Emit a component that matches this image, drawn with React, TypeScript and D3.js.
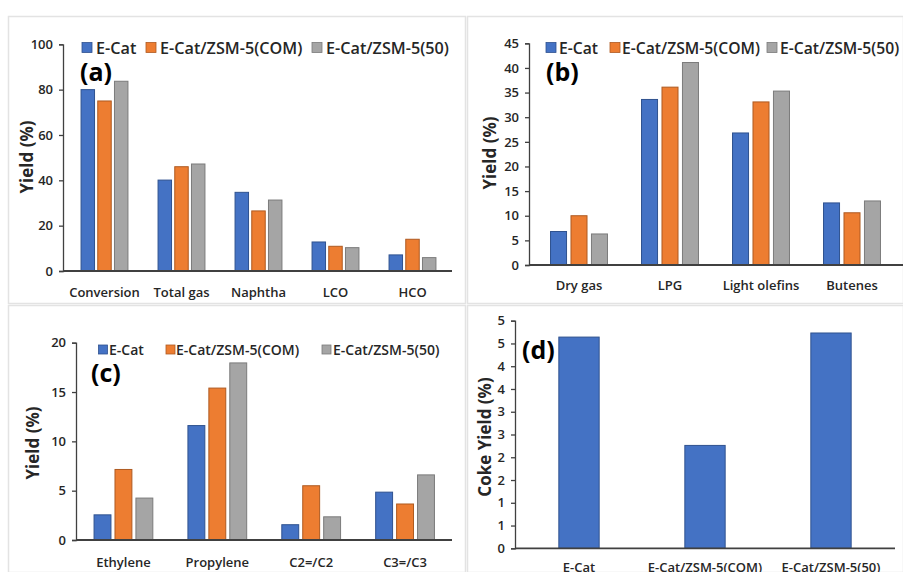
import * as d3 from 'd3';
import React, { useEffect, useRef } from 'react';

// series shared by panels (a)-(c); also the categories of panel (d)
const seriesNames = ['E-Cat', 'E-Cat/ZSM-5(COM)', 'E-Cat/ZSM-5(50)'];
const seriesColors = ['#4472C4', '#ED7D31', '#A5A5A5'];
const seriesStrokes = ['#2F528F', '#AE5A21', '#7B7B7B'];

// (a) product yields
const productCats = ['Conversion', 'Total gas', 'Naphtha', 'LCO', 'HCO'];
const productECat = [80, 40.1, 34.7, 12.8, 7.1];
const productCom = [75, 46, 26.5, 10.9, 14];
const product50 = [83.7, 47.2, 31.3, 10.3, 5.9];
const productTicks = [0, 20, 40, 60, 80, 100];

// (b) gas yields
const gasCats = ['Dry gas', 'LPG', 'Light olefins', 'Butenes'];
const gasECat = [6.8, 33.6, 26.8, 12.6];
const gasCom = [10.0, 36.1, 33.1, 10.6];
const gas50 = [6.3, 41.1, 35.3, 13.0];
const gasTicks = [0, 5, 10, 15, 20, 25, 30, 35, 40, 45];

// (c) light olefins
const olefinCats = ['Ethylene', 'Propylene', 'C2=/C2', 'C3=/C3'];
const olefinECat = [2.55, 11.6, 1.55, 4.85];
const olefinCom = [7.15, 15.4, 5.5, 3.65];
const olefin50 = [4.25, 17.95, 2.35, 6.6];
const olefinTicks = [0, 5, 10, 15, 20];

// (d) coke yield
const cokeCats = seriesNames;
const cokeValues = [4.64, 2.26, 4.73];
const cokeTicks = [0, 0.5, 1, 1.5, 2, 2.5, 3, 3.5, 4, 4.5, 5];

const FONT = "'Open Sans', sans-serif";
const TEXT = '#262626';

type Panel = {
  box: [number, number, number, number];
  cats: string[];
  series: number[][];
  colors: string[];
  strokes: string[];
  ticks: number[];
  fmt: (v: number) => string;
  xRange: [number, number];
  yRange: [number, number];
  axisX: number;
  axisEnd: number;
  barW: number;
  barStep: number;
  legendSq: number[];
  legendText: number[];
  legendY: number;
  legendSize: number;
  legendFont: number;
  tag: string;
  tagX: number;
  tagY: number;
  tagFont: number;
  title: string;
  titleX: number;
  titleY: number;
  catY: number;
  catFont: number;
  tickFont: number;
};

function drawPanel(root: d3.Selection<SVGSVGElement, unknown, null, undefined>, p: Panel) {
  const [x0, y0, x1, y1] = p.box;
  root
    .append('rect')
    .attr('x', x0 + 0.5)
    .attr('y', y0 + 0.5)
    .attr('width', x1 - x0)
    .attr('height', y1 - y0)
    .attr('fill', '#fff')
    .attr('stroke', '#e3e3e3')
    .attr('stroke-width', 1.5);

  const g = root.append('g');

  const x = d3.scaleBand<string>().domain(p.cats).range(p.xRange);
  const y = d3
    .scaleLinear()
    .domain([p.ticks[0], p.ticks[p.ticks.length - 1]])
    .range(p.yRange);

  // bars
  const n = p.series.length;
  p.series.forEach((vals, si) => {
    const off = (si - (n - 1) / 2) * p.barStep * x.bandwidth();
    const w = p.barW * x.bandwidth();
    g.selectAll(`.bar-${si}`)
      .data(vals)
      .enter()
      .append('rect')
      .attr('x', (_, i) => (x(p.cats[i]) as number) + x.bandwidth() / 2 + off - w / 2)
      .attr('y', d => y(d))
      .attr('width', w)
      .attr('height', d => y(0) - y(d))
      .attr('fill', p.colors[si])
      .attr('stroke', p.strokes[si])
      .attr('stroke-width', 1);
  });

  // y axis
  const yAxis = g
    .append('g')
    .attr('transform', `translate(${p.axisX},0)`)
    .call(d3.axisLeft(y).tickValues(p.ticks).tickFormat(d => p.fmt(d as number)).tickSize(4).tickPadding(6));
  yAxis.select('.domain').attr('stroke', '#404040').attr('stroke-width', 1.3);
  yAxis.selectAll('.tick line').attr('stroke', '#404040').attr('stroke-width', 1.3);
  yAxis
    .selectAll('.tick text')
    .attr('fill', TEXT)
    .style('font-family', FONT)
    .style('font-size', `${p.tickFont}px`)
    .style('font-weight', 600);

  // x axis line
  g.append('line')
    .attr('x1', p.axisX)
    .attr('x2', p.axisEnd)
    .attr('y1', y(0))
    .attr('y2', y(0))
    .attr('stroke', '#404040')
    .attr('stroke-width', 1.8);

  // category labels
  g.selectAll('.cat')
    .data(p.cats)
    .enter()
    .append('text')
    .attr('x', d => (x(d) as number) + x.bandwidth() / 2)
    .attr('y', p.catY)
    .attr('text-anchor', 'middle')
    .attr('dominant-baseline', 'central')
    .attr('fill', TEXT)
    .style('font-family', FONT)
    .style('font-size', `${p.catFont}px`)
    .style('font-weight', 600)
    .text(d => d);

  // y title
  g.append('text')
    .attr('transform', `translate(${p.titleX},${p.titleY}) rotate(-90)`)
    .attr('text-anchor', 'middle')
    .attr('dominant-baseline', 'central')
    .attr('fill', TEXT)
    .style('font-family', FONT)
    .style('font-size', '17px')
    .style('font-weight', 700)
    .text(p.title);

  // panel tag
  g.append('text')
    .attr('x', p.tagX)
    .attr('y', p.tagY)
    .attr('fill', '#000')
    .style('font-family', FONT)
    .style('font-size', `${p.tagFont}px`)
    .style('font-weight', 700)
    .text(p.tag);

  // legend
  p.legendSq.forEach((lx, i) => {
    g.append('rect')
      .attr('x', lx)
      .attr('y', p.legendY - p.legendSize / 2)
      .attr('width', p.legendSize)
      .attr('height', p.legendSize)
      .attr('fill', p.colors[i])
      .attr('stroke', p.strokes[i])
      .attr('stroke-width', 0.8);
    g.append('text')
      .attr('x', p.legendText[i])
      .attr('y', p.legendY)
      .attr('dominant-baseline', 'central')
      .attr('fill', TEXT)
      .style('font-family', FONT)
      .style('font-size', `${p.legendFont}px`)
      .style('font-weight', 600)
      .text(seriesNames[i]);
  });
}

export default function App() {
  const ref = useRef<SVGSVGElement>(null);

  useEffect(() => {
    if (!ref.current) return;
    const svg = d3.select(ref.current);
    svg.selectAll('*').remove();

    const three = {
      colors: seriesColors,
      strokes: seriesStrokes,
      fmt: (v: number) => d3.format('d')(v),
    };

    drawPanel(svg, {
      ...three,
      box: [8, 16, 465, 303],
      cats: productCats,
      series: [productECat, productCom, product50],
      ticks: productTicks,
      xRange: [66, 451],
      yRange: [271, 44.3],
      axisX: 63,
      axisEnd: 452,
      barW: 0.175,
      barStep: 0.217,
      legendSq: [82, 146, 312],
      legendText: [96, 160, 326],
      legendY: 47.5,
      legendSize: 10,
      legendFont: 16.2,
      tag: '(a)',
      tagX: 80,
      tagY: 81,
      tagFont: 25,
      title: 'Yield (%)',
      titleX: 26,
      titleY: 157,
      catY: 292,
      catFont: 13,
      tickFont: 13,
    });

    drawPanel(svg, {
      ...three,
      box: [467, 16, 903, 303],
      cats: gasCats,
      series: [gasECat, gasCom, gas50],
      ticks: gasTicks,
      xRange: [533.5, 897.5],
      yRange: [265, 43.3],
      axisX: 529,
      axisEnd: 903,
      barW: 0.176,
      barStep: 0.225,
      legendSq: [546, 610, 767],
      legendText: [559, 622, 780],
      legendY: 47.5,
      legendSize: 10,
      legendFont: 15.7,
      tag: '(b)',
      tagX: 546,
      tagY: 81,
      tagFont: 25,
      title: 'Yield (%)',
      titleX: 489,
      titleY: 153,
      catY: 285,
      catFont: 13,
      tickFont: 13,
    });

    drawPanel(svg, {
      ...three,
      box: [8, 305, 465, 572],
      cats: olefinCats,
      series: [olefinECat, olefinCom, olefin50],
      ticks: olefinTicks,
      xRange: [76.5, 452],
      yRange: [540, 342.7],
      axisX: 76,
      axisEnd: 452,
      barW: 0.18,
      barStep: 0.223,
      legendSq: [98.5, 166, 322],
      legendText: [109, 176, 333],
      legendY: 349.5,
      legendSize: 9,
      legendFont: 14,
      tag: '(c)',
      tagX: 91,
      tagY: 382,
      tagFont: 25,
      title: 'Yield (%)',
      titleX: 32,
      titleY: 443,
      catY: 561.5,
      catFont: 13,
      tickFont: 13,
    });

    drawPanel(svg, {
      colors: [seriesColors[0]],
      strokes: [seriesStrokes[0]],
      fmt: (v: number) => String(Math.round(v)),
      box: [467, 305, 903, 572],
      cats: cokeCats,
      series: [cokeValues],
      ticks: cokeTicks,
      xRange: [516, 894],
      yRange: [548.3, 320.7],
      axisX: 515,
      axisEnd: 895,
      barW: 0.32,
      barStep: 0,
      legendSq: [],
      legendText: [],
      legendY: 0,
      legendSize: 0,
      legendFont: 0,
      tag: '(d)',
      tagX: 522,
      tagY: 359,
      tagFont: 25,
      title: 'Coke Yield (%)',
      titleX: 484.5,
      titleY: 437,
      catY: 566.5,
      catFont: 13,
      tickFont: 13,
    });
  }, []);

  return (
    <svg
      ref={ref}
      width={903}
      height={572}
      style={{ position: 'absolute', left: 0, top: 0, background: '#fff' }}
    />
  );
}
